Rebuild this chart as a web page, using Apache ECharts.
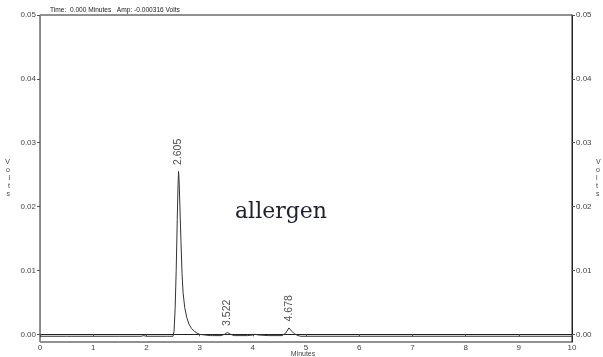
<!DOCTYPE html>
<html>
<head>
<meta charset="utf-8">
<script src="https://cdn.jsdelivr.net/npm/echarts@6/dist/echarts.min.js"></script>
<style>
  html, body { margin: 0; padding: 0; background: #fff; }
  #chart { width: 603px; height: 357px; }
</style>
</head>
<body>
<div id="chart"></div>
<script>
// Detector trace: retention time (minutes) and signal (volts)
const traceTime = [
  0, 0.5, 1.0, 1.5, 1.9, 1.95, 2.0, 2.4, 2.5,
  2.52, 2.54, 2.56, 2.58, 2.595, 2.605, 2.615, 2.63, 2.65, 2.67, 2.69,
  2.72, 2.76, 2.80, 2.85, 2.90, 2.95, 3.0, 3.1, 3.2, 3.22, 3.24,
  3.4, 3.47, 3.522, 3.58, 3.65, 3.9, 4.0, 4.05, 4.1, 4.3,
  4.55, 4.62, 4.678, 4.72, 4.78, 4.85, 4.9, 6.0, 8.0, 10.0
];
const traceVolts = [
  -0.0003, -0.0003, -0.0003, -0.0003, -0.0003, -0.0002, -0.0003, -0.0003, -0.0003,
  0.0005, 0.0040, 0.0100, 0.0180, 0.0235, 0.0255, 0.0240, 0.0200, 0.0145, 0.0095, 0.0065,
  0.0042, 0.0026, 0.0016, 0.0009, 0.0005, 0.0002, 0.0000, -0.0001, -0.0002, 0.0000, -0.0002,
  -0.0002, 0.0000, 0.0003, 0.0000, -0.0002, -0.0002, -0.0001, 0.0000, -0.0001, -0.0002,
  -0.0002, 0.0002, 0.0010, 0.0006, 0.0001, -0.0002, -0.0003, -0.0003, -0.0003, -0.0003
];

// Integrated peaks: apex time and apex height
const peakTimes = [2.605, 3.522, 4.678];
const peakVolts = [0.0255, 0.0003, 0.0010];

// Axis ticks
const xTicks = [0, 1, 2, 3, 4, 5, 6, 7, 8, 9, 10];
const yTicks = [0.00, 0.01, 0.02, 0.03, 0.04, 0.05];

const headerText = 'Time:  0.000 Minutes   Amp: -0.000316 Volts';
const sampleName = 'allergen';

const baseFont = 'Liberation Sans, Arial, sans-serif';

function yAxisCfg(side, lineColor, gap) {
  return {
    type: 'value',
    position: side,
    min: -0.0012,
    max: 0.05,
    name: 'V\no\nl\nt\ns',
    nameLocation: 'middle',
    nameRotate: 0,
    nameGap: gap,
    nameMoveOverlap: false,
    nameTextStyle: { fontSize: 7, lineHeight: 8, color: '#444', fontFamily: baseFont },
    axisLine: { show: true, lineStyle: { color: lineColor, width: 1 } },
    axisTick: { show: true, length: 3, customValues: yTicks, lineStyle: { color: '#555' } },
    axisLabel: {
      customValues: yTicks,
      fontSize: 8,
      color: '#444',
      margin: 4,
      fontFamily: baseFont,
      formatter: v => v.toFixed(2)
    },
    splitLine: { show: false }
  };
}

const chart = echarts.init(document.getElementById('chart'), null, { renderer: 'canvas' });
chart.setOption({
  animation: false,
  backgroundColor: '#fff',
  grid: {
    left: 40, right: 31, top: 15, bottom: 15,
    outerBoundsMode: 'none',
    containLabel: false,
    show: true, borderColor: '#222', borderWidth: 1, backgroundColor: 'transparent'
  },
  xAxis: {
    type: 'value',
    min: xTicks[0],
    max: xTicks[xTicks.length - 1],
    interval: 1,
    name: 'Minutes',
    nameLocation: 'middle',
    nameGap: 9,
    nameMoveOverlap: false,
    nameTextStyle: { fontSize: 7, color: '#444', fontFamily: baseFont, padding: [0, 6, 0, 0] },
    axisLine: { show: true, lineStyle: { color: '#222', width: 1 } },
    axisTick: { show: true, length: 2, lineStyle: { color: '#555' } },
    axisLabel: { fontSize: 8, color: '#444', margin: 2, fontFamily: baseFont },
    splitLine: { show: false }
  },
  yAxis: [yAxisCfg('left', '#888', 30), yAxisCfg('right', '#222', 24)],
  series: [
    {
      type: 'line',
      data: traceTime.map((t, i) => [t, traceVolts[i]]),
      showSymbol: false,
      symbol: 'none',
      lineStyle: { color: '#333', width: 1 },
      z: 3
    },
    {
      type: 'scatter',
      data: peakTimes.map((t, i) => [t, peakVolts[i]]),
      symbolSize: 1,
      itemStyle: { color: 'rgba(0,0,0,0)' },
      label: {
        show: true,
        position: 'top',
        distance: 6,
        rotate: 90,
        align: 'left',
        verticalAlign: 'middle',
        fontSize: 10.5,
        color: '#222',
        fontFamily: baseFont,
        formatter: p => p.value[0].toFixed(3)
      },
      z: 4
    }
  ],
  graphic: [
    {
      type: 'text',
      left: 50,
      top: 7,
      style: { text: headerText, fontSize: 6.6, fill: '#222', fontFamily: baseFont }
    },
    {
      type: 'text',
      x: 235,
      y: 212,
      style: {
        text: sampleName,
        fontSize: 22,
        fill: '#1e2030',
        fontFamily: 'DejaVu Serif, serif',
        verticalAlign: 'middle'
      }
    }
  ]
});
</script>
</body>
</html>
